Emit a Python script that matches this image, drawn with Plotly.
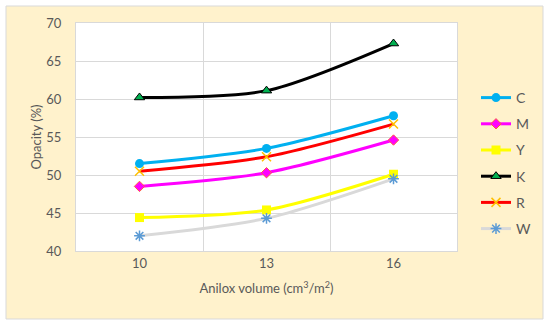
import plotly.graph_objects as go

categories = ["10", "13", "16"]
C = [51.5, 53.5, 57.8]
M = [48.5, 50.3, 54.6]
Y = [44.4, 45.4, 50.1]
K = [60.2, 61.1, 67.3]
R = [50.5, 52.4, 56.7]
W = [42.0, 44.3, 49.5]
series_names = ["C", "M", "Y", "K", "R", "W"]
series_values = [C, M, Y, K, R, W]

styles = {
    "C": dict(line=dict(color="#00B0F0", width=3), marker=dict(symbol="circle", size=9, color="#00B0F0")),
    "M": dict(line=dict(color="#FF00FF", width=3), marker=dict(symbol="diamond", size=8, color="#FF00FF", line=dict(color="#FF6040", width=1))),
    "Y": dict(line=dict(color="#FFFF00", width=3), marker=dict(symbol="square", size=9, color="#FFFF00")),
    "K": dict(line=dict(color="#000000", width=3), marker=dict(symbol="triangle-up", size=9, color="#00B050", line=dict(color="#000000", width=1))),
    "R": dict(line=dict(color="#FF0000", width=3), marker=dict(symbol="x-thin", size=9, line=dict(color="#FFC000", width=1.5))),
    "W": dict(line=dict(color="#D9D9D9", width=3), marker=dict(symbol="asterisk", size=9, line=dict(color="#5B9BD5", width=1.5))),
}

fig = go.Figure()
for name, vals in zip(series_names, series_values):
    st = styles[name]
    fig.add_trace(go.Scatter(
        x=categories, y=vals, name=name, mode="lines+markers",
        line=dict(shape="spline", smoothing=0.8, **st["line"]),
        marker=st["marker"], legendgroup=name,
    ))

L, Rm, T, B = 76, 93, 23, 74
pw, ph = 550 - L - Rm, 325 - T - B

def px2x(p):
    return (p - L) / pw

def py2y(p):
    return (325 - B - p) / ph

fig.update_layout(
    width=550, height=325,
    margin=dict(l=L, r=Rm, t=T, b=B),
    paper_bgcolor="white", plot_bgcolor="white",
    font=dict(family="Lato, Carlito, Calibri, sans-serif", size=13, color="#595959"),
    showlegend=True,
    legend=dict(x=px2x(476), y=py2y(82), xanchor="left", yanchor="top",
                tracegroupgap=5, bgcolor="rgba(0,0,0,0)",
                font=dict(size=14, color="#595959"), itemwidth=30),
    shapes=[
        dict(type="rect", xref="paper", yref="paper", layer="below",
             x0=px2x(6), x1=px2x(543), y0=py2y(319), y1=py2y(6),
             fillcolor="#FFF2CC", line=dict(color="#D9D9D9", width=1)),
        dict(type="rect", xref="paper", yref="paper", layer="below",
             x0=0, x1=1, y0=0, y1=1, fillcolor="white", line=dict(width=0)),
    ],
)
fig.update_xaxes(
    type="category", tickson="boundaries", showgrid=True, gridcolor="#D9D9D9",
    showline=True, linecolor="#D9D9D9", mirror=True, ticks="outside", ticklen=13,
    tickcolor="rgba(0,0,0,0)", range=[-0.5, 2.5],
    title=dict(text="Anilox volume (cm<sup>3</sup>/m<sup>2</sup>)", standoff=14,
               font=dict(size=13, color="#595959")),
)
fig.update_yaxes(
    range=[40, 70], dtick=5, showgrid=True, gridcolor="#D9D9D9",
    showline=True, linecolor="#D9D9D9", mirror=True, ticks="outside", ticklen=11,
    tickcolor="rgba(0,0,0,0)", zeroline=False,
    title=dict(text="Opacity (%)", standoff=1, font=dict(size=13, color="#595959")),
)

fig.write_html("out.html", config={"displayModeBar": False},
               post_script="document.body.style.margin='0';document.body.style.padding='0';")
